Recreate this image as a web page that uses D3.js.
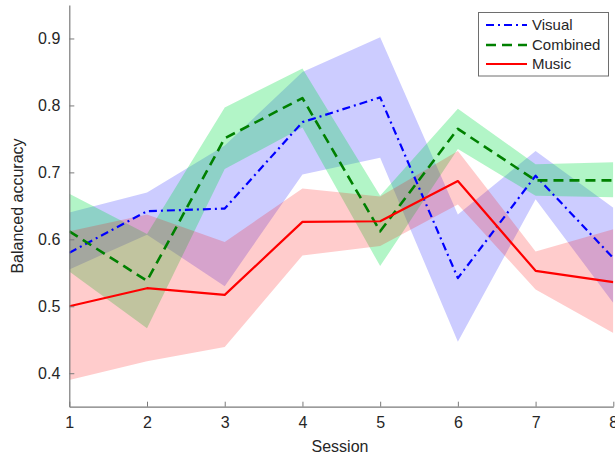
<!DOCTYPE html>
<html>
<head>
<meta charset="utf-8">
<script src="https://cdn.jsdelivr.net/npm/d3@7"></script>
<style>
  html, body { margin: 0; padding: 0; background: #fff; }
  svg { display: block; font-family: "Liberation Sans", Arial, sans-serif; }
</style>
</head>
<body>
<svg id="chart" width="615" height="458"></svg>
<script>
const sessions = [1, 2, 3, 4, 5, 6, 7, 8];
const xTicks = [1, 2, 3, 4, 5, 6, 7, 8];
const yTicks = [0.4, 0.5, 0.6, 0.7, 0.8, 0.9];

const visualMean = [0.580, 0.642, 0.646, 0.775, 0.812, 0.542, 0.695, 0.572];
const visualLow  = [0.555, 0.607, 0.530, 0.697, 0.722, 0.447, 0.660, 0.505];
const visualHigh = [0.640, 0.670, 0.740, 0.850, 0.902, 0.637, 0.732, 0.647];

const combinedMean = [0.612, 0.538, 0.751, 0.811, 0.612, 0.765, 0.688, 0.688];
const combinedLow  = [0.552, 0.467, 0.705, 0.767, 0.560, 0.735, 0.665, 0.663];
const combinedHigh = [0.668, 0.608, 0.797, 0.855, 0.665, 0.795, 0.712, 0.715];

const musicMean = [0.500, 0.527, 0.517, 0.626, 0.627, 0.687, 0.553, 0.536];
const musicLow  = [0.390, 0.418, 0.439, 0.576, 0.590, 0.652, 0.525, 0.460];
const musicHigh = [0.612, 0.637, 0.596, 0.676, 0.664, 0.732, 0.582, 0.615];

const seriesNames = ["Visual", "Combined", "Music"];

const svg = d3.select("#chart");
const mLeft = 69.3, mRight = 613.3, mTop = 5, mBottom = 406.7;

const x = d3.scaleLinear().domain([1, 8]).range([mLeft, mRight]);
const y = d3.scaleLinear().domain([0.35, 0.95]).range([mBottom, mTop]);

svg.append("defs").append("clipPath").attr("id", "plotclip")
  .append("rect").attr("x", mLeft).attr("y", mTop)
  .attr("width", mRight - mLeft).attr("height", mBottom - mTop);

const series = [
  { name: seriesNames[0], mean: visualMean, low: visualLow, high: visualHigh,
    fill: "#0000ff", fillOp: 0.2, stroke: "#0000ff", dash: "8,4,2,4", width: 2.2 },
  { name: seriesNames[1], mean: combinedMean, low: combinedLow, high: combinedHigh,
    fill: "#00dd44", fillOp: 0.3, stroke: "#008000", dash: "10,6", width: 2.6 },
  { name: seriesNames[2], mean: musicMean, low: musicLow, high: musicHigh,
    fill: "#ff0000", fillOp: 0.2, stroke: "#ff0000", dash: null, width: 2.2 }
];

const plot = svg.append("g").attr("clip-path", "url(#plotclip)");

const area = d3.area()
  .x((d, i) => x(sessions[i]))
  .y0(d => y(d[0]))
  .y1(d => y(d[1]));

const line = d3.line()
  .x((d, i) => x(sessions[i]))
  .y(d => y(d));

series.forEach(s => {
  plot.append("path")
    .datum(s.low.map((v, i) => [v, s.high[i]]))
    .attr("d", area)
    .attr("fill", s.fill)
    .attr("fill-opacity", s.fillOp)
    .attr("stroke", "none");
});

series.forEach(s => {
  plot.append("path")
    .datum(s.mean)
    .attr("d", line)
    .attr("fill", "none")
    .attr("stroke", s.stroke)
    .attr("stroke-width", s.width)
    .attr("stroke-dasharray", s.dash)
    .attr("stroke-linejoin", "round");
});

// axes
const axisColor = "#7a7a7a";
const textColor = "#262626";

const xAxis = svg.append("g").attr("transform", `translate(0,${mBottom})`)
  .call(d3.axisBottom(x).tickValues(xTicks).tickFormat(d3.format("d"))
    .tickSizeInner(-5).tickSizeOuter(0).tickPadding(10));
const yAxis = svg.append("g").attr("transform", `translate(${mLeft},0)`)
  .call(d3.axisLeft(y).tickValues(yTicks).tickFormat(d3.format(".1f"))
    .tickSizeInner(-5).tickSizeOuter(0).tickPadding(9));

[xAxis, yAxis].forEach(g => {
  g.select(".domain").attr("stroke", axisColor).attr("stroke-width", 1.2);
  g.selectAll(".tick line").attr("stroke", axisColor).attr("stroke-width", 1);
  g.selectAll(".tick text").attr("fill", textColor).style("font-size", "16px")
    .style("font-family", "'Liberation Sans', Arial, sans-serif");
});

svg.append("text")
  .attr("x", 340).attr("y", 452)
  .attr("text-anchor", "middle")
  .attr("fill", textColor)
  .style("font-size", "16px")
  .text("Session");

svg.append("text")
  .attr("transform", "translate(23,206) rotate(-90)")
  .attr("text-anchor", "middle")
  .attr("fill", textColor)
  .style("font-size", "16px")
  .text("Balanced accuracy");

// legend
const leg = svg.append("g");
leg.append("rect")
  .attr("x", 478.5).attr("y", 12.5).attr("width", 130).attr("height", 63.5)
  .attr("fill", "#fff").attr("stroke", "#6e6e6e").attr("stroke-width", 1);
const legY = [25, 45, 64];
series.forEach((s, i) => {
  leg.append("line")
    .attr("x1", 486).attr("x2", 527)
    .attr("y1", legY[i]).attr("y2", legY[i])
    .attr("stroke", s.stroke).attr("stroke-width", s.width)
    .attr("stroke-dasharray", s.dash);
  leg.append("text")
    .attr("x", 532).attr("y", legY[i]).attr("dy", "0.35em")
    .attr("fill", textColor)
    .style("font-size", "15px")
    .text(s.name);
});
</script>
</body>
</html>
